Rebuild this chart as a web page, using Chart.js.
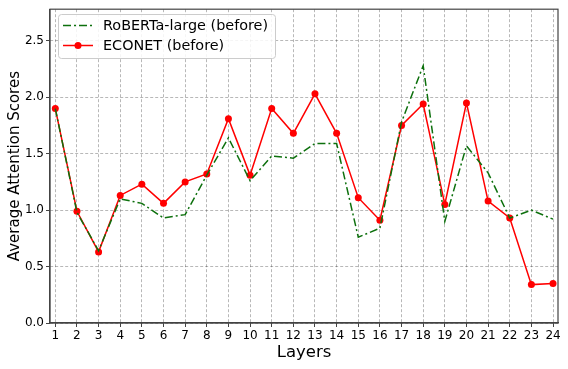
<!DOCTYPE html>
<html>
<head>
  <meta charset="utf-8">
  <script src="https://cdn.jsdelivr.net/npm/chart.js@4.4.1/dist/chart.umd.min.js"></script>
  <style>
    html, body { margin: 0; padding: 0; background: #fff; }
    #holder { width: 568px; height: 369px; }
  </style>
</head>
<body>
<div id="holder">
  <canvas id="chart-area" width="568" height="369"></canvas>
</div>

<script>
var layers = [1, 2, 3, 4, 5, 6, 7, 8, 9, 10, 11, 12, 13, 14, 15, 16, 17, 18, 19, 20, 21, 22, 23, 24];
var robertaBefore = [1.90, 0.98, 0.64, 1.10, 1.06, 0.93, 0.96, 1.31, 1.64, 1.26, 1.48, 1.46,
                     1.59, 1.59, 0.76, 0.84, 1.78, 2.28, 0.90, 1.57, 1.33, 0.93, 1.00, 0.92];
var econetBefore = [1.90, 0.99, 0.63, 1.13, 1.23, 1.06, 1.25, 1.32, 1.81, 1.31, 1.90, 1.68,
                    2.03, 1.68, 1.11, 0.91, 1.75, 1.94, 1.05, 1.95, 1.08, 0.93, 0.34, 0.35];
var yTicks = [0.0, 0.5, 1.0, 1.5, 2.0, 2.5];

var FONT = "'DejaVu Sans', sans-serif";

function points(vals) {
    return vals.map(function(v, i) { return { x: layers[i], y: v }; });
}

// box round the plot plus the legend in the upper left corner
var framePlugin = {
    id: 'frame',
    afterDraw: function(chart) {
        var ctx = chart.ctx, a = chart.chartArea;
        ctx.save();
        ctx.strokeStyle = '#444';
        ctx.lineWidth = 1.2;
        ctx.strokeRect(a.left, a.top, a.right - a.left, a.bottom - a.top);

        // legend
        var bx = 58, by = 14, bw = 217, bh = 44;
        ctx.beginPath();
        ctx.roundRect(bx + 0.5, by + 0.5, bw, bh, 3);
        ctx.fillStyle = 'rgba(255,255,255,0.85)';
        ctx.fill();
        ctx.strokeStyle = '#cccccc';
        ctx.lineWidth = 1;
        ctx.stroke();

        var ds = chart.data.datasets;
        var rows = [25.5, 45.5];
        ctx.font = '14.4px ' + FONT;
        ctx.textBaseline = 'middle';
        ds.forEach(function(d, i) {
            var y = rows[i];
            ctx.beginPath();
            ctx.setLineDash(d.borderDash || []);
            ctx.strokeStyle = d.borderColor;
            ctx.lineWidth = d.borderWidth;
            ctx.moveTo(63, y);
            ctx.lineTo(93, y);
            ctx.stroke();
            ctx.setLineDash([]);
            if (d.pointRadius > 0) {
                ctx.beginPath();
                ctx.arc(78, y, d.pointRadius, 0, Math.PI * 2);
                ctx.fillStyle = d.pointBackgroundColor;
                ctx.fill();
            }
            ctx.fillStyle = '#000';
            ctx.fillText(d.label, 103, y + 1);
        });
        ctx.restore();
    }
};

var config = {
    type: 'line',
    data: {
        datasets: [{
            label: 'RoBERTa-large (before)',
            data: points(robertaBefore),
            borderColor: '#0d700d',
            borderWidth: 1.5,
            borderDash: [8, 3, 2, 3],
            pointRadius: 0,
            pointBackgroundColor: '#0d700d',
            fill: false,
            tension: 0
        }, {
            label: 'ECONET (before)',
            data: points(econetBefore),
            borderColor: '#ff0000',
            borderWidth: 1.5,
            pointRadius: 3.5,
            pointBackgroundColor: '#ff0000',
            pointBorderWidth: 0,
            fill: false,
            tension: 0
        }]
    },
    options: {
        responsive: false,
        animation: false,
        layout: { padding: { top: 6, right: 10, left: 0, bottom: 0 } },
        plugins: {
            legend: { display: false },
            tooltip: { enabled: false }
        },
        scales: {
            x: {
                type: 'linear',
                min: 0.755,
                max: 24.23,
                afterBuildTicks: function(scale) {
                    scale.ticks = layers.map(function(v) { return { value: v }; });
                },
                afterFit: function(scale) { scale.height = 46; },
                grid: {
                    color: 'rgba(0,0,0,0.28)',
                    tickLength: 4,
                    tickColor: '#444',
                    tickBorderDash: []
                },
                border: { color: '#444', width: 1.2, dash: [3, 2] },
                ticks: {
                    autoSkip: false,
                    maxRotation: 0,
                    padding: 2,
                    color: '#000',
                    font: { family: FONT, size: 12 },
                    callback: function(v) { return String(v); }
                },
                title: {
                    display: true,
                    text: 'Layers',
                    color: '#000',
                    font: { family: FONT, size: 16.5 },
                    padding: { top: 0, bottom: 6 }
                }
            },
            y: {
                min: 0,
                max: 2.78,
                afterBuildTicks: function(scale) {
                    scale.ticks = yTicks.map(function(v) { return { value: v }; });
                },
                afterFit: function(scale) { scale.width = 50; },
                grid: {
                    color: 'rgba(0,0,0,0.28)',
                    tickLength: 4,
                    tickColor: '#444',
                    tickBorderDash: []
                },
                border: { color: '#444', width: 1.2, dash: [3, 2] },
                ticks: {
                    padding: 2,
                    color: '#000',
                    font: { family: FONT, size: 12 },
                    callback: function(v) { return v.toFixed(1); }
                },
                title: {
                    display: true,
                    text: 'Average Attention Scores',
                    color: '#000',
                    font: { family: FONT, size: 15 },
                    padding: { top: 6, bottom: 0 }
                }
            }
        }
    },
    plugins: [framePlugin]
};

window.onload = function() {
    var ctx = document.getElementById('chart-area').getContext('2d');
    window.myLine = new Chart(ctx, config);
};
</script>
</body>
</html>
